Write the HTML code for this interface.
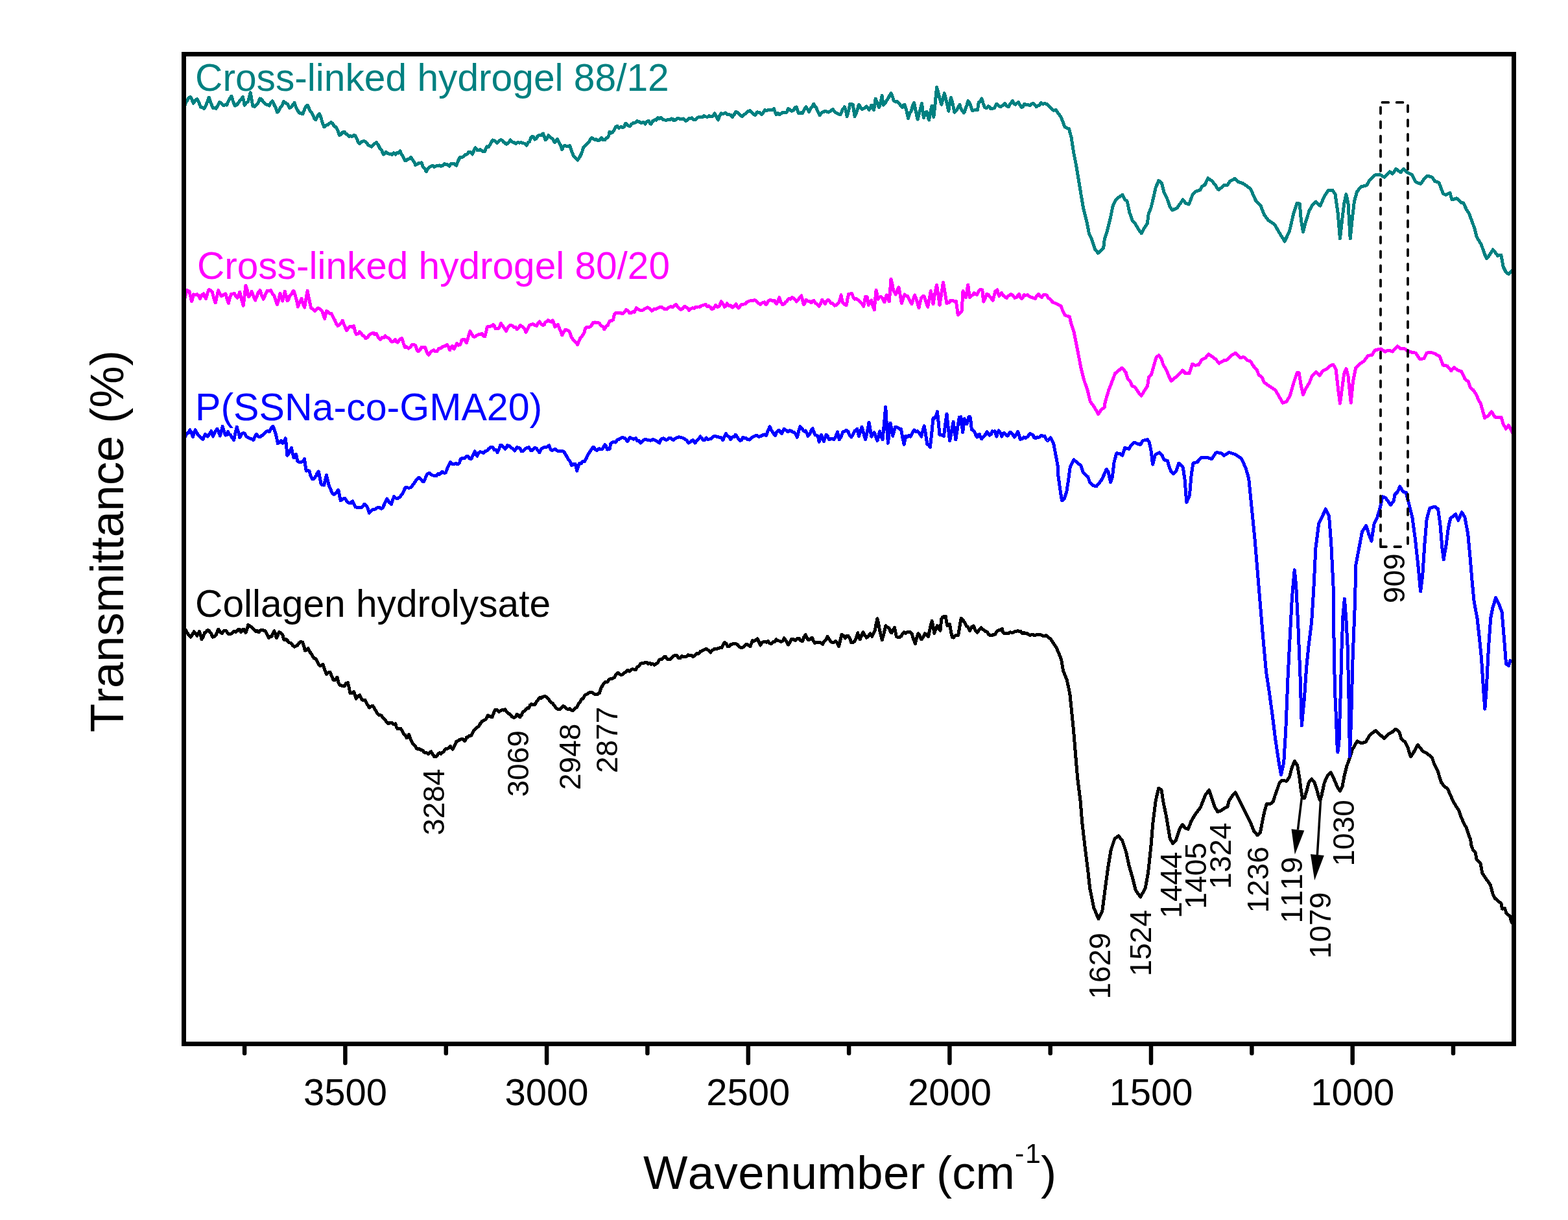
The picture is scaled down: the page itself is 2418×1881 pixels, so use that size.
<!DOCTYPE html>
<html><head><meta charset="utf-8"><title>FTIR spectra</title>
<style>html,body{margin:0;padding:0;background:#fff;} svg{display:block;}</style>
</head><body>
<svg width="2418" height="1881" viewBox="0 0 2418 1881"><rect width="2418" height="1881" fill="#fff"/><path d="M283.7,971.6 L285.5,970.9 L287.3,972.9 L290.5,978.7 L293.7,982.1 L296.5,978.9 L299.2,973.8 L301.5,976.1 L303.8,980.2 L305.6,977.0 L307.5,973.8 L309.3,979.6 L311.1,985.7 L313.4,981.2 L315.7,975.6 L317.5,974.8 L319.4,972.0 L321.7,971.9 L324.0,974.7 L325.8,976.7 L327.6,982.1 L330.4,981.9 L333.1,979.3 L334.9,974.5 L336.8,970.1 L339.5,974.3 L342.3,976.6 L345.0,972.5 L347.8,972.0 L350.1,974.5 L352.3,977.5 L355.5,977.4 L358.8,975.6 L361.0,973.3 L363.3,974.5 L365.6,973.0 L367.9,970.1 L369.7,970.7 L371.6,974.7 L373.9,970.7 L376.2,970.1 L377.5,973.0 L378.9,975.6 L380.7,971.3 L382.6,963.7 L385.0,965.1 L387.4,966.4 L389.9,969.2 L392.2,971.2 L394.5,973.8 L396.8,972.6 L399.0,974.7 L401.3,971.9 L403.6,971.1 L406.4,971.8 L409.1,972.9 L411.9,978.4 L414.6,983.9 L416.9,981.5 L419.2,981.1 L421.0,976.0 L422.9,972.9 L424.7,977.4 L426.5,983.9 L428.4,979.2 L430.2,974.7 L432.5,975.3 L434.8,977.5 L436.1,979.9 L437.5,985.7 L439.3,986.9 L441.2,985.7 L443.7,988.2 L446.2,990.8 L448.7,991.5 L451.2,994.9 L454.0,997.1 L456.7,995.8 L459.0,994.8 L461.3,991.2 L464.1,989.4 L466.8,990.3 L468.6,996.1 L470.5,1003.1 L472.8,1002.1 L475.1,999.5 L478.3,1005.7 L481.5,1010.4 L484.2,1014.8 L487.0,1015.9 L489.7,1020.7 L492.5,1026.0 L495.2,1026.3 L497.9,1024.2 L500.7,1032.6 L503.4,1039.7 L506.2,1037.2 L508.9,1036.1 L511.7,1042.8 L514.4,1048.9 L517.2,1048.0 L519.9,1044.3 L521.8,1051.5 L523.6,1056.2 L526.0,1056.9 L528.5,1057.8 L530.9,1058.1 L533.7,1053.6 L536.4,1052.6 L538.2,1059.9 L540.1,1069.0 L542.8,1068.7 L545.6,1066.3 L547.4,1071.5 L549.2,1077.3 L552.0,1073.4 L554.7,1071.8 L556.6,1075.6 L558.4,1079.1 L560.7,1079.9 L563.0,1079.1 L566.2,1085.7 L569.4,1091.0 L572.1,1089.2 L574.9,1088.3 L577.3,1092.0 L579.8,1096.2 L582.2,1100.2 L584.9,1102.6 L587.7,1102.9 L589.5,1105.3 L591.4,1107.5 L593.8,1109.9 L596.2,1113.0 L598.7,1115.8 L601.4,1114.1 L604.2,1114.1 L606.9,1116.5 L609.7,1115.8 L611.5,1121.6 L613.3,1124.0 L615.6,1123.9 L617.9,1123.1 L620.2,1126.8 L622.5,1131.3 L624.8,1133.3 L627.1,1137.7 L628.9,1135.0 L630.7,1132.2 L633.0,1139.9 L635.3,1144.1 L637.6,1147.9 L639.9,1149.8 L642.2,1153.7 L644.5,1155.1 L646.9,1154.8 L649.4,1156.4 L651.8,1157.0 L654.1,1160.0 L656.4,1160.0 L658.7,1160.9 L661.0,1162.5 L662.8,1159.8 L664.6,1158.8 L667.4,1163.1 L670.1,1167.0 L672.9,1166.4 L675.6,1162.5 L677.8,1160.7 L680.0,1162.5 L680.0,1161.6 L682.4,1160.2 L684.9,1157.9 L687.3,1154.3 L689.8,1154.5 L692.2,1152.7 L694.7,1150.6 L696.5,1154.0 L698.3,1155.2 L701.1,1149.3 L703.8,1143.3 L706.3,1142.3 L708.7,1140.6 L711.1,1139.6 L713.9,1139.4 L716.6,1142.4 L718.0,1141.0 L719.4,1136.9 L721.8,1136.2 L724.3,1134.0 L726.7,1134.1 L728.5,1130.5 L730.4,1126.8 L733.1,1124.3 L735.9,1121.4 L738.6,1119.5 L740.9,1115.3 L743.2,1112.2 L745.9,1110.9 L748.7,1109.4 L750.5,1106.7 L752.3,1103.0 L755.5,1104.8 L758.8,1105.8 L761.0,1100.1 L763.3,1094.8 L766.5,1094.4 L769.7,1097.5 L772.0,1095.6 L774.3,1094.5 L776.6,1095.1 L778.9,1093.8 L781.3,1097.6 L783.8,1099.8 L786.2,1101.2 L789.4,1105.0 L792.6,1106.7 L794.9,1105.1 L797.2,1101.2 L799.5,1102.6 L801.8,1105.8 L804.1,1102.9 L806.4,1097.5 L808.7,1096.8 L811.0,1093.3 L813.2,1091.6 L815.5,1092.0 L817.4,1087.1 L819.2,1085.6 L821.9,1087.0 L824.7,1086.5 L827.4,1081.5 L830.2,1078.3 L832.5,1075.7 L834.8,1076.4 L837.1,1074.3 L839.3,1073.7 L841.8,1074.0 L844.2,1076.1 L846.7,1079.2 L849.4,1082.5 L852.2,1084.4 L854.9,1088.0 L857.7,1092.0 L860.4,1093.7 L863.2,1093.8 L865.9,1090.9 L868.6,1088.4 L871.4,1090.0 L874.1,1092.9 L876.4,1093.5 L878.7,1092.6 L881.0,1094.6 L883.3,1095.7 L886.5,1092.6 L889.7,1090.2 L892.0,1085.4 L894.3,1082.9 L896.7,1077.8 L899.2,1077.0 L901.6,1071.9 L904.4,1070.5 L907.1,1069.1 L909.9,1067.2 L912.6,1067.3 L915.3,1069.5 L918.1,1071.0 L921.3,1070.7 L924.5,1068.2 L927.3,1060.1 L930.0,1055.4 L933.2,1051.8 L936.4,1051.7 L939.2,1047.7 L941.9,1046.2 L944.7,1046.1 L947.4,1044.4 L950.1,1039.5 L952.9,1037.1 L955.6,1039.6 L958.4,1040.7 L960.8,1039.5 L963.3,1037.2 L965.7,1035.2 L968.0,1033.3 L970.3,1035.1 L972.6,1033.6 L974.9,1031.6 L977.6,1032.1 L980.4,1032.5 L982.8,1028.4 L985.3,1026.9 L987.7,1023.3 L990.1,1022.3 L992.6,1022.4 L995.0,1021.5 L997.3,1021.5 L999.6,1023.3 L1001.9,1022.0 L1004.2,1024.2 L1006.6,1023.2 L1009.1,1025.3 L1011.5,1023.3 L1013.9,1022.2 L1016.4,1017.8 L1018.8,1016.0 L1021.3,1016.1 L1023.7,1012.9 L1026.2,1012.3 L1028.9,1016.2 L1031.6,1016.9 L1033.9,1016.2 L1036.2,1013.4 L1038.5,1011.2 L1040.8,1010.5 L1043.6,1010.6 L1046.3,1014.2 L1048.7,1014.9 L1051.2,1011.3 L1053.6,1012.3 L1056.1,1012.6 L1058.5,1012.2 L1061.0,1009.6 L1063.4,1010.8 L1065.8,1010.2 L1068.3,1012.3 L1071.0,1011.4 L1073.8,1007.8 L1076.9,1008.1 L1080.0,1005.0 L1080.0,1004.2 L1082.3,1004.0 L1084.6,1002.4 L1086.9,1001.0 L1089.2,1000.5 L1092.4,1002.7 L1095.6,1006.0 L1098.8,1002.2 L1102.0,1000.5 L1104.7,1000.7 L1107.5,999.6 L1110.2,998.9 L1113.0,998.7 L1115.3,993.5 L1117.5,990.4 L1119.8,992.2 L1122.1,996.8 L1124.4,996.3 L1126.7,993.8 L1129.0,993.4 L1131.3,992.3 L1134.5,992.6 L1137.7,994.1 L1140.4,997.7 L1143.2,998.7 L1146.4,997.8 L1149.6,994.1 L1152.0,993.3 L1154.5,994.9 L1156.9,996.8 L1158.8,991.7 L1160.6,987.7 L1163.0,988.5 L1165.5,986.9 L1167.9,984.9 L1170.2,989.4 L1172.5,995.0 L1174.8,991.2 L1177.1,989.5 L1179.5,989.8 L1182.0,990.1 L1184.4,988.6 L1187.1,992.0 L1189.9,992.3 L1192.3,989.6 L1194.8,989.4 L1197.2,985.9 L1199.7,987.8 L1202.1,988.2 L1204.5,989.5 L1206.8,988.5 L1209.1,984.0 L1212.3,988.1 L1215.5,994.1 L1217.8,990.8 L1220.1,985.9 L1223.3,985.3 L1226.5,987.7 L1229.3,984.7 L1232.0,984.0 L1234.8,987.8 L1237.5,988.6 L1239.8,982.5 L1242.1,978.5 L1244.4,983.6 L1246.7,986.8 L1249.4,985.3 L1252.2,983.1 L1254.5,988.5 L1256.7,991.4 L1259.9,990.4 L1263.2,990.4 L1265.9,991.2 L1268.6,993.2 L1271.1,988.5 L1273.5,986.6 L1276.0,981.3 L1278.7,985.8 L1281.5,989.5 L1283.9,990.9 L1286.3,990.3 L1288.8,988.6 L1291.1,991.4 L1293.4,996.8 L1295.7,987.9 L1297.9,978.5 L1300.7,979.9 L1303.4,984.0 L1305.7,980.5 L1308.0,980.4 L1310.3,983.9 L1312.6,990.4 L1315.3,990.8 L1318.1,988.6 L1320.4,983.2 L1322.7,975.8 L1324.5,982.0 L1326.3,985.9 L1328.6,979.8 L1330.9,974.9 L1333.7,979.4 L1336.4,983.1 L1339.2,980.9 L1341.9,976.7 L1343.3,978.6 L1344.7,981.3 L1346.9,977.0 L1349.2,972.1 L1351.1,962.0 L1352.9,953.8 L1354.7,961.5 L1356.6,972.1 L1358.4,978.6 L1360.2,986.8 L1363.0,977.2 L1365.7,964.8 L1368.5,966.9 L1371.2,968.5 L1373.0,973.7 L1374.9,975.8 L1377.2,971.5 L1379.5,967.5 L1380.8,973.6 L1382.2,981.3 L1384.9,982.8 L1387.7,982.2 L1389.5,981.1 L1391.4,977.6 L1393.8,974.9 L1396.2,976.4 L1398.7,974.9 L1401.1,974.0 L1403.6,974.7 L1406.0,976.7 L1408.8,985.9 L1411.5,992.3 L1413.8,982.8 L1416.1,976.7 L1418.4,980.3 L1420.7,985.9 L1423.4,983.0 L1426.2,976.7 L1428.9,978.7 L1431.6,981.3 L1434.4,968.0 L1437.1,957.5 L1439.0,965.9 L1440.8,976.7 L1443.1,969.8 L1445.4,964.8 L1447.7,969.3 L1450.0,972.1 L1451.8,953.8 L1455.0,950.5 L1458.2,950.1 L1459.6,959.0 L1461.0,964.8 L1462.8,963.0 L1464.6,962.1 L1466.4,973.8 L1468.3,982.2 L1470.6,983.1 L1473.0,980.2 L1475.3,979.5 L1477.7,979.7 L1479.9,966.4 L1482.1,953.2 L1485.0,955.5 L1488.0,960.6 L1490.4,965.1 L1492.9,966.8 L1495.3,972.4 L1498.3,966.9 L1501.2,965.0 L1504.1,971.9 L1507.1,975.3 L1510.0,970.9 L1513.0,968.0 L1515.3,970.4 L1517.7,971.9 L1520.0,973.5 L1522.4,974.6 L1524.7,978.3 L1527.2,979.7 L1529.6,979.9 L1532.1,978.3 L1534.7,978.2 L1537.4,973.3 L1540.0,971.9 L1542.7,971.6 L1545.3,969.4 L1546.8,974.8 L1548.3,976.8 L1550.6,976.6 L1553.0,976.9 L1555.4,976.5 L1557.7,974.7 L1560.1,975.3 L1562.4,975.2 L1564.8,974.0 L1567.1,973.5 L1569.5,972.6 L1571.8,973.8 L1574.2,973.6 L1576.5,976.8 L1578.9,975.4 L1581.2,976.7 L1583.6,976.8 L1586.0,977.9 L1588.3,979.6 L1590.7,978.2 L1593.0,978.4 L1595.4,979.7 L1598.3,978.6 L1601.3,978.1 L1604.2,978.3 L1607.1,980.0 L1610.1,980.7 L1613.0,979.7 L1620.4,985.6 L1629.2,998.9 L1636.6,1016.5 L1639.5,1034.2 L1645.4,1048.9 L1649.8,1069.5 L1652.8,1098.9 L1655.7,1128.3 L1658.6,1163.7 L1661.6,1199.0 L1666.0,1234.3 L1668.9,1269.6 L1673.4,1307.9 L1677.8,1343.2 L1680.7,1369.7 L1686.6,1399.1 L1694.0,1416.8 L1699.8,1405.0 L1704.3,1369.7 L1708.7,1337.3 L1713.1,1310.8 L1719.0,1293.1 L1724.9,1288.7 L1730.7,1296.1 L1736.6,1313.7 L1741.0,1334.3 L1746.9,1354.9 L1751.3,1372.6 L1758.7,1382.9 L1766.1,1369.7 L1770.5,1346.1 L1774.9,1304.9 L1777.8,1269.6 L1782.2,1234.3 L1786.7,1215.2 L1791.1,1218.1 L1794.0,1237.2 L1798.4,1257.8 L1804.3,1293.1 L1808.7,1300.5 L1813.1,1296.1 L1819.0,1278.4 L1823.4,1271.1 L1827.9,1277.0 L1832.3,1278.4 L1836.7,1266.7 L1842.6,1256.4 L1851.4,1244.6 L1858.8,1225.5 L1864.6,1218.1 L1873.2,1243.8 L1877.6,1251.5 L1882.0,1250.4 L1888.6,1246.0 L1893.0,1243.8 L1895.2,1235.1 L1900.7,1226.3 L1905.1,1221.9 L1909.5,1230.7 L1916.0,1243.8 L1922.6,1257.0 L1929.2,1270.2 L1933.6,1281.2 L1939.1,1287.8 L1943.5,1283.4 L1946.8,1265.8 L1950.1,1250.4 L1953.4,1239.5 L1958.9,1239.5 L1963.3,1236.2 L1966.6,1225.2 L1969.9,1216.4 L1973.2,1206.5 L1976.5,1203.2 L1984.2,1204.3 L1988.6,1197.7 L1991.9,1184.5 L1996.3,1173.5 L2000.7,1180.1 L2004.0,1199.9 L2006.2,1217.5 L2008.4,1229.6 L2011.6,1230.7 L2014.9,1219.7 L2018.2,1206.5 L2022.6,1201.0 L2027.0,1206.5 L2030.3,1216.4 L2033.6,1228.5 L2035.8,1234.0 L2038.0,1226.3 L2042.4,1206.5 L2046.8,1196.6 L2052.3,1191.1 L2056.7,1199.9 L2062.2,1213.1 L2066.6,1219.7 L2069.9,1213.1 L2073.2,1195.5 L2076.5,1182.3 L2082.0,1166.9 L2085.3,1155.9 L2093.0,1142.7 L2099.6,1146.0 L2106.2,1143.8 L2112.7,1132.9 L2121.5,1126.3 L2128.1,1132.9 L2134.7,1138.4 L2141.3,1131.8 L2145.7,1129.6 L2152.3,1124.1 L2157.8,1128.5 L2161.1,1139.5 L2166.6,1143.8 L2171.0,1152.6 L2175.4,1166.9 L2179.8,1160.3 L2186.4,1148.2 L2189.7,1152.6 L2194.1,1158.1 L2201.8,1162.5 L2208.4,1168.0 L2211.6,1177.9 L2217.1,1188.9 L2222.6,1206.5 L2227.0,1212.0 L2232.5,1216.4 L2236.9,1226.3 L2241.3,1236.2 L2244.6,1241.6 L2250.1,1250.4 L2253.4,1260.3 L2257.8,1270.2 L2261.2,1275.9 L2264.7,1286.5 L2267.7,1294.7 L2268.9,1303.0 L2271.8,1311.2 L2275.3,1314.7 L2277.1,1325.3 L2283.0,1331.2 L2285.9,1346.5 L2290.6,1353.6 L2298.3,1364.2 L2302.4,1379.5 L2304.7,1384.2 L2309.5,1388.9 L2314.8,1392.4 L2316.5,1401.2 L2320.6,1400.6 L2323.0,1408.3 L2328.3,1412.4 L2331.0,1421.8 L2333.0,1424.2" fill="none" stroke="#000000" stroke-width="5.0" stroke-linejoin="round" stroke-linecap="round" shape-rendering="crispEdges"/><path d="M283.7,673.9 L286.0,672.8 L288.2,668.4 L290.5,667.3 L292.8,662.9 L295.1,666.8 L297.4,673.9 L299.2,666.9 L301.1,662.9 L303.4,667.8 L305.6,670.2 L308.1,673.5 L310.5,675.7 L313.0,677.5 L314.8,672.7 L316.6,669.3 L318.5,671.5 L320.3,673.0 L323.0,669.2 L325.8,664.7 L327.2,669.1 L328.5,673.0 L331.7,665.8 L334.9,661.1 L337.2,666.3 L339.5,672.1 L341.4,664.3 L343.2,657.4 L345.5,665.1 L347.8,671.1 L349.6,670.2 L351.4,665.6 L353.3,669.5 L355.1,670.2 L357.8,674.5 L360.6,678.5 L362.9,668.2 L365.2,658.3 L367.5,665.7 L369.7,674.8 L372.5,669.5 L375.2,667.5 L377.5,668.5 L379.8,673.0 L383.0,674.7 L386.2,676.6 L388.5,676.9 L390.8,678.5 L393.1,673.5 L395.4,669.3 L398.1,673.0 L400.9,673.9 L402.7,672.6 L404.5,671.1 L407.3,668.6 L410.0,665.6 L412.8,664.7 L415.5,665.6 L418.3,659.8 L421.0,657.4 L422.9,661.8 L424.7,667.5 L426.5,674.4 L428.4,684.0 L431.1,681.7 L433.8,679.4 L435.2,683.0 L436.6,683.0 L438.4,680.0 L440.3,675.7 L441.6,687.8 L443.0,702.3 L446.2,697.7 L449.4,690.4 L451.2,699.2 L453.1,705.9 L454.9,704.0 L456.7,700.4 L458.6,710.5 L461.8,712.9 L465.0,712.3 L467.3,711.0 L469.6,707.8 L470.9,718.0 L472.3,726.1 L474.6,725.6 L476.9,726.1 L479.2,734.2 L481.5,738.9 L484.2,738.3 L487.0,734.3 L489.2,729.4 L491.5,727.0 L493.4,737.5 L495.2,746.2 L497.5,747.9 L499.8,748.1 L501.6,740.1 L503.4,732.5 L505.3,740.4 L507.1,748.1 L509.9,754.4 L512.6,760.9 L514.9,762.4 L517.2,760.9 L519.5,758.1 L521.8,755.4 L523.6,764.8 L525.4,771.9 L528.6,769.5 L531.8,768.2 L535.0,773.2 L538.2,775.5 L541.0,775.6 L543.7,772.8 L546.0,777.2 L548.3,781.9 L551.5,782.6 L554.7,782.9 L557.2,782.5 L559.6,780.0 L562.1,777.4 L563.9,779.1 L565.7,781.0 L567.5,785.1 L569.4,791.1 L572.1,787.7 L574.9,785.6 L577.6,785.4 L580.4,783.8 L583.1,782.1 L585.9,782.9 L588.2,784.3 L590.4,782.9 L593.6,775.2 L596.8,769.1 L600.1,774.7 L603.3,777.4 L605.5,770.7 L607.8,765.5 L611.0,768.5 L614.2,768.2 L617.5,765.3 L620.7,760.9 L622.9,756.3 L625.2,751.7 L628.0,751.8 L630.7,752.3 L633.5,751.7 L636.2,748.4 L639.0,744.4 L641.4,741.0 L643.9,737.8 L646.3,736.2 L648.7,738.3 L651.2,742.0 L653.6,742.6 L655.5,738.4 L657.3,733.4 L660.0,730.0 L662.8,729.7 L665.2,732.1 L667.7,733.0 L670.1,733.4 L672.6,734.0 L675.1,730.5 L677.5,731.5 L680.0,729.7 L680.0,728.8 L682.4,727.2 L684.9,729.4 L687.3,728.8 L689.8,722.5 L692.2,716.9 L694.7,712.3 L697.4,715.5 L700.1,716.0 L702.6,714.3 L705.0,715.5 L707.5,715.1 L708.8,712.7 L710.2,707.8 L713.4,706.4 L716.6,706.8 L718.9,704.0 L721.2,703.2 L724.0,706.8 L726.7,707.8 L729.5,701.5 L732.2,695.9 L734.0,700.3 L735.9,703.2 L738.2,698.3 L740.4,696.8 L743.2,697.2 L745.9,698.6 L748.4,695.3 L750.8,695.0 L753.3,692.2 L756.5,689.3 L759.7,689.5 L762.1,693.8 L764.6,693.2 L767.0,697.7 L769.3,693.0 L771.6,686.7 L774.0,686.8 L776.5,689.5 L778.9,692.2 L780.7,690.6 L782.6,686.7 L785.3,687.3 L788.1,690.4 L790.8,691.5 L793.6,694.9 L795.4,692.9 L797.2,689.5 L799.5,690.6 L801.8,691.0 L804.1,696.0 L806.4,695.9 L808.7,693.0 L811.0,691.0 L813.2,690.5 L815.5,689.5 L817.4,692.6 L819.2,694.9 L821.9,693.5 L824.7,690.4 L827.1,691.4 L829.6,694.7 L832.0,697.7 L834.8,692.3 L837.5,690.4 L839.8,689.3 L842.1,689.5 L844.4,688.5 L846.7,686.7 L848.5,691.8 L850.3,694.0 L853.1,694.0 L855.8,692.2 L858.3,694.7 L860.7,695.4 L863.2,695.9 L865.9,695.8 L868.6,695.9 L871.4,699.0 L874.1,704.1 L876.9,708.8 L879.6,712.3 L881.5,717.8 L884.2,715.8 L887.0,715.1 L888.3,719.2 L889.7,726.1 L891.5,719.9 L893.4,714.2 L896.1,714.6 L898.9,711.0 L901.6,711.4 L904.4,706.2 L907.1,700.4 L909.5,696.4 L912.0,693.2 L914.4,689.5 L916.3,690.0 L918.1,693.1 L920.8,694.5 L923.6,691.8 L926.3,692.8 L929.1,692.2 L930.9,688.7 L932.7,685.8 L934.6,687.7 L936.4,693.1 L938.2,692.9 L940.1,692.2 L941.9,684.0 L944.3,682.1 L946.8,681.1 L949.2,682.1 L952.0,678.2 L954.7,677.5 L957.9,675.0 L961.1,674.8 L964.3,676.1 L967.5,680.3 L969.4,678.0 L971.2,674.8 L973.5,675.1 L975.8,677.0 L978.1,677.0 L980.4,675.7 L982.8,679.9 L985.3,679.6 L987.7,683.0 L990.1,681.0 L992.6,678.5 L995.0,677.5 L997.5,678.0 L999.9,678.3 L1002.3,679.1 L1004.8,678.9 L1007.2,677.4 L1009.7,678.5 L1012.1,679.7 L1014.6,681.6 L1017.0,683.0 L1018.8,678.1 L1020.7,676.6 L1023.1,675.6 L1025.5,677.5 L1028.0,678.5 L1031.2,675.7 L1034.4,675.7 L1036.7,677.9 L1039.0,678.5 L1041.7,675.7 L1044.5,674.8 L1047.2,673.8 L1050.0,674.6 L1052.7,675.2 L1055.5,676.6 L1058.7,678.8 L1061.9,683.0 L1065.1,680.8 L1068.3,678.5 L1070.1,680.6 L1071.9,683.0 L1074.6,679.0 L1077.3,676.8 L1080.0,673.0 L1080.0,674.1 L1082.3,675.4 L1084.6,678.7 L1086.9,678.3 L1089.2,675.0 L1091.9,677.6 L1094.7,676.8 L1097.1,676.1 L1099.5,673.6 L1102.0,672.3 L1104.4,672.9 L1106.9,673.8 L1109.3,674.1 L1112.1,674.8 L1114.8,678.7 L1117.1,673.3 L1119.4,668.6 L1121.8,671.8 L1124.3,673.6 L1126.7,677.8 L1129.1,673.9 L1131.6,674.0 L1134.0,670.4 L1136.5,673.0 L1138.9,676.6 L1141.4,679.6 L1143.6,678.4 L1145.9,674.1 L1148.4,675.7 L1150.8,675.8 L1153.3,677.8 L1156.0,678.1 L1158.8,675.0 L1161.5,673.2 L1164.2,672.3 L1167.0,671.0 L1169.7,673.2 L1172.5,672.9 L1175.2,671.4 L1178.4,669.9 L1181.6,671.4 L1184.4,663.8 L1187.1,657.6 L1189.0,662.5 L1190.8,664.9 L1193.1,668.8 L1195.4,671.4 L1198.1,665.5 L1200.9,663.1 L1203.2,665.7 L1205.5,668.6 L1207.3,664.6 L1209.1,661.3 L1212.3,663.5 L1215.5,665.9 L1217.4,663.9 L1219.2,664.0 L1221.9,665.7 L1224.7,666.8 L1227.0,668.9 L1229.3,674.1 L1231.6,665.1 L1233.8,657.6 L1236.1,659.9 L1238.4,663.1 L1240.3,665.1 L1242.1,664.0 L1243.9,666.6 L1245.8,672.3 L1247.6,670.9 L1249.4,667.7 L1251.2,662.9 L1253.1,660.4 L1254.9,665.7 L1256.7,670.4 L1259.0,671.0 L1261.3,672.3 L1263.2,681.4 L1265.0,675.8 L1266.8,670.4 L1268.6,676.4 L1270.5,680.5 L1272.3,675.1 L1274.1,670.4 L1276.4,672.7 L1278.7,677.8 L1281.2,676.4 L1283.6,676.3 L1286.0,677.8 L1288.8,673.1 L1291.5,665.9 L1292.9,672.3 L1294.3,677.8 L1297.0,673.5 L1299.8,665.9 L1302.5,665.2 L1305.3,663.1 L1307.7,665.1 L1310.2,671.0 L1312.6,674.1 L1315.3,670.1 L1318.1,664.0 L1319.9,663.5 L1321.8,661.3 L1323.1,666.8 L1324.5,672.3 L1326.8,664.9 L1329.1,658.5 L1331.8,668.0 L1334.6,677.8 L1337.3,665.6 L1340.1,651.2 L1341.9,661.4 L1343.7,673.2 L1346.0,670.1 L1348.3,666.8 L1350.6,673.1 L1352.9,679.6 L1354.7,673.9 L1356.6,664.9 L1358.8,672.5 L1361.1,677.8 L1363.4,654.1 L1365.7,627.4 L1367.5,656.5 L1369.4,683.3 L1371.2,667.0 L1373.0,652.1 L1374.9,661.2 L1376.7,672.3 L1378.5,665.4 L1380.4,658.5 L1382.7,658.4 L1384.9,659.6 L1387.2,661.2 L1389.5,661.3 L1391.8,674.7 L1394.1,685.1 L1395.5,679.0 L1396.8,672.3 L1399.3,673.7 L1401.7,671.4 L1404.2,673.2 L1406.9,667.6 L1409.7,663.1 L1412.4,665.8 L1415.2,664.9 L1417.9,667.8 L1420.7,673.2 L1422.9,664.6 L1425.2,656.7 L1427.5,669.3 L1429.8,685.1 L1432.1,685.9 L1434.4,689.7 L1436.7,668.7 L1439.0,644.8 L1440.8,645.6 L1442.6,643.0 L1444.0,639.4 L1445.4,634.7 L1447.2,651.2 L1449.0,670.4 L1452.3,670.6 L1455.5,672.3 L1457.7,654.4 L1460.0,638.4 L1462.3,659.6 L1464.6,679.6 L1467.4,665.6 L1470.1,650.3 L1471.9,663.8 L1473.8,677.8 L1476.5,660.5 L1479.3,643.0 L1480.0,653.8 L1481.8,642.8 L1483.2,653.3 L1484.6,666.6 L1486.0,656.2 L1487.3,645.6 L1489.2,651.3 L1491.0,653.8 L1492.4,649.2 L1493.7,642.8 L1495.1,642.3 L1496.5,644.7 L1498.3,662.1 L1500.6,663.9 L1502.9,665.7 L1504.7,670.6 L1506.6,674.0 L1508.4,670.8 L1510.2,669.4 L1512.1,674.5 L1513.9,676.7 L1515.7,674.3 L1517.5,672.1 L1519.8,669.7 L1522.1,665.7 L1524.0,668.1 L1525.8,671.2 L1528.1,669.8 L1530.4,664.8 L1532.2,665.8 L1534.0,664.8 L1535.4,669.2 L1536.8,673.0 L1538.6,667.2 L1540.4,663.9 L1542.7,668.2 L1545.0,673.0 L1546.8,668.6 L1548.7,667.5 L1551.0,670.2 L1553.3,672.1 L1555.1,670.8 L1556.9,666.6 L1558.8,666.4 L1560.6,668.5 L1562.4,671.2 L1564.2,674.0 L1567.0,669.8 L1569.7,665.7 L1571.6,671.3 L1573.4,677.6 L1576.2,676.5 L1578.9,674.0 L1581.2,675.5 L1583.5,674.0 L1585.8,671.9 L1588.1,668.5 L1590.3,669.3 L1592.6,670.3 L1594.9,674.7 L1597.2,675.8 L1599.5,674.0 L1601.8,674.4 L1604.1,672.9 L1606.4,671.2 L1608.7,672.6 L1611.0,672.1 L1613.2,677.1 L1615.5,679.5 L1620.1,674.9 L1624.7,684.0 L1628.4,703.3 L1631.1,717.9 L1632.0,734.4 L1634.8,754.5 L1637.5,771.9 L1641.2,769.2 L1644.8,758.2 L1647.6,739.9 L1650.3,719.7 L1655.8,708.8 L1661.3,713.3 L1666.8,717.9 L1670.5,728.9 L1677.8,735.3 L1680.5,743.6 L1685.1,748.1 L1690.6,750.0 L1696.1,743.6 L1699.8,738.1 L1706.2,723.4 L1708.9,727.1 L1712.6,743.6 L1715.3,736.2 L1718.1,712.4 L1721.8,698.7 L1727.3,699.6 L1730.9,702.3 L1734.6,690.4 L1741.0,692.3 L1744.7,685.9 L1749.2,682.2 L1758.4,685.9 L1762.1,679.5 L1769.4,677.6 L1772.1,681.3 L1774.9,694.1 L1777.6,716.1 L1781.3,701.4 L1787.7,697.8 L1792.3,702.3 L1795.0,708.8 L1800.5,710.6 L1802.3,717.9 L1806.0,727.1 L1809.7,730.7 L1814.2,725.2 L1817.9,714.2 L1824.3,720.7 L1827.1,739.9 L1829.8,774.7 L1834.4,763.7 L1837.1,732.6 L1839.9,714.2 L1846.3,712.4 L1852.7,705.1 L1861.0,705.1 L1868.3,707.8 L1874.7,698.7 L1876.4,697.5 L1884.3,699.1 L1887.5,702.3 L1895.4,697.5 L1905.0,700.7 L1914.5,707.0 L1920.9,721.3 L1925.6,737.2 L1928.8,769.0 L1932.0,800.8 L1935.2,832.6 L1938.3,870.7 L1941.5,908.9 L1944.7,947.0 L1947.9,985.1 L1952.6,1036.0 L1957.4,1067.8 L1962.2,1102.8 L1966.9,1140.9 L1971.7,1172.7 L1975.5,1194.9 L1979.7,1175.9 L1982.8,1125.0 L1986.0,1045.5 L1989.2,982.0 L1992.4,921.6 L1996.2,878.7 L1998.7,902.5 L2001.9,966.1 L2005.1,1045.5 L2007.3,1118.7 L2011.4,1077.3 L2014.6,1029.7 L2017.8,997.9 L2022.6,959.7 L2025.8,908.9 L2028.9,845.3 L2033.7,807.1 L2038.5,797.6 L2044.2,784.9 L2049.6,796.0 L2052.8,838.9 L2056.0,902.5 L2057.2,997.9 L2058.5,1064.9 L2060.4,1105.0 L2061.7,1145.0 L2062.9,1160.0 L2064.9,1145.0 L2066.1,1105.0 L2067.4,1064.9 L2069.0,1000.1 L2070.9,950.2 L2073.4,923.2 L2076.0,956.5 L2078.2,997.9 L2080.4,1093.2 L2081.4,1166.3 L2083.6,1109.1 L2086.1,1013.8 L2089.3,934.3 L2090.9,870.7 L2095.7,845.3 L2100.5,819.9 L2106.8,810.3 L2111.1,824.6 L2114.9,834.2 L2119.1,807.1 L2123.8,797.6 L2128.6,781.7 L2131.8,765.8 L2136.6,767.4 L2144.5,778.5 L2149.3,772.2 L2150.9,762.6 L2155.6,757.9 L2158.8,749.9 L2163.6,757.9 L2168.3,759.5 L2173.1,778.5 L2177.9,797.6 L2182.6,832.6 L2187.4,877.1 L2190.6,912.0 L2193.8,886.6 L2196.9,838.9 L2200.1,800.8 L2204.9,783.3 L2212.8,781.1 L2217.6,784.9 L2220.8,807.1 L2224.0,845.3 L2226.2,862.8 L2230.3,838.9 L2233.5,813.5 L2236.7,799.2 L2244.6,792.8 L2248.8,802.4 L2254.2,789.7 L2258.9,797.6 L2263.7,823.0 L2266.9,858.0 L2270.1,896.1 L2273.2,927.9 L2278.0,953.4 L2281.2,982.0 L2284.4,1013.8 L2287.5,1061.4 L2289.8,1093.2 L2292.3,1061.4 L2295.5,997.9 L2298.7,953.4 L2301.8,937.5 L2306.6,921.6 L2311.4,931.1 L2316.1,943.8 L2319.3,982.0 L2322.5,1023.3 L2326.3,1026.5 L2328.9,1018.5 L2334.3,1021.7" fill="none" stroke="#0000FF" stroke-width="5.0" stroke-linejoin="round" stroke-linecap="round" shape-rendering="crispEdges"/><path d="M284.6,462.1 L286.4,453.9 L288.2,447.5 L290.1,448.5 L291.9,449.3 L293.7,456.6 L295.6,464.9 L296.9,459.8 L298.3,453.9 L301.1,454.3 L303.8,453.9 L306.1,455.5 L308.4,460.3 L311.1,454.9 L313.9,453.0 L315.7,457.8 L317.5,460.3 L319.8,452.6 L322.1,446.6 L324.9,447.9 L327.6,451.1 L329.9,460.7 L332.2,466.7 L334.5,457.0 L336.8,447.5 L339.1,453.3 L341.4,456.6 L344.6,454.7 L347.8,453.0 L350.1,460.8 L352.3,467.6 L354.6,459.0 L356.9,453.0 L359.2,453.0 L361.5,452.1 L363.8,457.0 L366.1,459.4 L367.9,454.9 L369.7,450.2 L372.5,461.6 L375.2,471.3 L377.1,456.3 L378.9,440.1 L381.2,447.3 L383.5,457.5 L385.8,454.4 L388.1,449.3 L390.8,456.5 L393.6,463.0 L396.0,457.1 L398.4,451.0 L400.9,447.5 L403.6,455.7 L406.4,461.2 L409.1,454.7 L411.9,448.4 L414.6,448.7 L417.4,447.5 L420.1,453.0 L422.9,455.7 L425.1,463.4 L427.4,469.5 L429.7,462.3 L432.0,452.1 L433.8,457.6 L435.7,464.0 L437.5,457.7 L439.3,449.3 L441.2,456.4 L443.0,464.0 L444.8,461.9 L446.7,456.6 L449.4,453.9 L452.2,448.4 L453.5,449.7 L454.9,453.9 L457.2,462.2 L459.5,473.1 L462.2,465.7 L465.0,460.3 L467.3,468.8 L469.6,474.0 L471.8,461.0 L474.1,448.4 L476.9,462.1 L479.6,474.9 L482.4,476.5 L485.1,479.5 L487.9,477.3 L490.6,474.9 L493.4,476.4 L496.1,478.6 L498.4,484.5 L500.7,491.4 L502.1,485.8 L503.4,479.5 L505.9,481.0 L508.3,483.4 L510.8,483.2 L513.5,488.9 L516.3,493.3 L518.6,499.4 L520.8,502.4 L523.3,501.0 L525.7,498.7 L528.2,494.2 L531.4,502.6 L534.6,509.7 L537.3,505.3 L540.1,503.3 L542.8,504.2 L545.6,502.4 L547.4,510.5 L549.2,515.2 L552.0,514.9 L554.7,511.6 L557.0,514.3 L559.3,517.4 L561.6,518.1 L563.9,521.6 L566.3,520.7 L568.8,517.6 L571.2,515.2 L573.5,514.2 L575.8,513.2 L578.1,515.8 L580.4,514.3 L583.6,520.7 L586.8,523.5 L589.2,520.2 L591.7,520.9 L594.1,518.0 L596.6,520.0 L599.1,521.3 L601.7,524.1 L604.2,527.1 L606.9,526.3 L609.7,523.5 L611.5,527.1 L613.3,528.1 L616.5,523.2 L619.7,521.6 L622.0,528.9 L624.3,535.4 L627.1,534.7 L629.8,537.2 L632.6,535.3 L635.3,531.7 L638.1,531.6 L640.8,532.6 L642.6,538.6 L644.5,541.8 L647.2,540.3 L650.0,535.4 L652.7,535.4 L655.5,535.4 L658.2,543.1 L661.0,547.3 L663.7,543.4 L666.4,540.9 L668.9,539.7 L671.3,541.8 L673.8,541.8 L676.9,537.4 L680.0,536.3 L680.0,537.1 L682.3,534.6 L684.6,534.0 L686.9,533.3 L689.2,531.6 L691.4,534.5 L693.7,539.8 L695.6,535.0 L697.4,533.4 L698.8,537.0 L700.1,538.0 L702.4,533.2 L704.7,529.7 L707.0,532.3 L709.3,531.6 L710.7,529.3 L712.1,524.2 L714.3,523.4 L716.6,523.3 L718.0,525.9 L719.4,528.8 L722.1,519.7 L724.9,510.5 L726.7,514.2 L728.5,516.9 L729.9,518.6 L731.3,519.7 L734.0,518.1 L736.8,516.0 L740.0,515.5 L743.2,514.2 L745.5,518.1 L747.8,518.8 L749.6,511.5 L751.4,504.1 L753.7,503.4 L756.0,503.2 L758.3,502.6 L760.6,500.4 L762.4,502.7 L764.2,506.8 L766.1,506.1 L767.9,506.8 L770.2,504.4 L772.5,498.6 L774.8,501.9 L777.1,505.0 L778.9,507.9 L780.7,510.5 L783.5,504.2 L786.2,501.4 L788.1,501.5 L789.9,502.3 L792.3,504.4 L794.8,504.2 L797.2,507.8 L800.0,505.0 L802.7,501.4 L804.5,503.2 L806.4,504.1 L808.7,506.6 L811.0,512.3 L813.7,507.3 L816.4,501.4 L819.2,500.3 L821.9,499.5 L824.7,501.5 L827.4,502.3 L829.7,498.5 L832.0,495.9 L833.8,498.9 L835.7,500.4 L837.5,501.3 L839.3,500.4 L841.2,496.4 L843.0,495.9 L845.3,493.8 L847.6,495.6 L849.9,496.2 L852.2,494.0 L854.0,498.2 L855.8,504.1 L858.1,502.1 L860.4,500.4 L861.8,504.4 L863.2,507.8 L865.0,511.7 L866.8,516.9 L869.1,512.3 L871.4,508.7 L874.6,508.9 L877.8,510.5 L879.6,515.1 L881.5,520.6 L883.8,523.7 L886.0,526.1 L888.3,528.1 L890.6,531.6 L892.9,525.6 L895.2,520.6 L897.9,517.9 L900.7,513.3 L902.5,507.0 L904.4,504.1 L907.1,504.4 L909.9,504.1 L912.1,501.7 L914.4,497.7 L917.2,497.0 L919.9,497.7 L922.2,497.2 L924.5,498.6 L926.8,502.0 L929.1,503.2 L930.5,504.5 L931.8,507.8 L934.6,503.4 L937.3,501.4 L938.7,497.9 L940.1,494.9 L942.8,494.7 L945.6,493.1 L947.4,484.9 L949.8,482.5 L952.3,482.4 L954.7,482.1 L957.0,482.4 L959.3,484.0 L962.5,482.0 L965.7,477.5 L968.2,479.2 L970.6,482.5 L973.0,483.0 L975.8,480.9 L978.5,481.2 L979.9,477.4 L981.3,474.8 L984.5,477.2 L987.7,478.5 L990.4,478.9 L993.2,476.6 L995.9,475.1 L998.7,473.9 L1001.9,475.6 L1005.1,479.4 L1008.3,476.6 L1011.5,476.6 L1014.7,474.9 L1017.9,473.0 L1021.1,473.7 L1024.3,476.6 L1026.8,476.8 L1029.2,476.0 L1031.6,473.9 L1034.4,472.7 L1037.1,473.9 L1039.9,470.8 L1042.6,469.3 L1045.1,473.2 L1047.5,475.3 L1050.0,477.5 L1052.7,475.9 L1055.5,472.1 L1057.9,473.6 L1060.3,475.0 L1062.8,478.5 L1065.5,475.9 L1068.3,474.8 L1070.6,475.5 L1073.0,473.2 L1075.3,473.1 L1077.7,473.0 L1080.0,473.0 L1080.0,472.3 L1082.7,471.1 L1085.5,470.1 L1088.2,469.5 L1090.5,472.9 L1092.8,471.9 L1095.1,473.2 L1097.4,476.8 L1100.6,475.2 L1103.8,470.4 L1105.6,473.2 L1107.5,473.2 L1109.8,470.8 L1112.1,464.9 L1114.8,468.8 L1117.5,473.2 L1119.4,472.1 L1121.2,467.7 L1124.0,471.4 L1126.7,471.0 L1129.5,474.1 L1132.2,472.2 L1134.9,468.6 L1136.8,473.0 L1138.6,475.0 L1140.9,472.9 L1143.2,469.5 L1146.4,469.1 L1149.6,468.6 L1151.4,466.0 L1153.3,464.9 L1155.7,464.1 L1158.1,463.4 L1160.6,464.0 L1163.3,462.5 L1166.1,464.0 L1169.3,467.1 L1172.5,469.5 L1175.7,466.9 L1178.9,465.9 L1180.3,468.8 L1181.6,469.5 L1184.9,464.2 L1188.1,462.2 L1191.3,464.1 L1194.5,463.1 L1195.8,466.6 L1197.2,468.6 L1199.5,465.1 L1201.8,458.5 L1204.1,465.5 L1206.4,469.5 L1208.8,469.1 L1211.3,466.1 L1213.7,464.0 L1216.1,460.4 L1218.6,461.2 L1221.0,458.5 L1223.5,459.5 L1225.9,462.1 L1228.4,464.9 L1230.8,462.5 L1233.2,458.9 L1235.7,455.8 L1237.5,462.3 L1239.3,469.5 L1241.2,467.4 L1243.0,462.2 L1245.8,464.1 L1248.5,464.7 L1251.2,466.8 L1253.1,464.1 L1254.9,463.1 L1257.7,467.5 L1260.4,469.1 L1263.2,472.3 L1265.4,468.3 L1267.7,462.2 L1270.0,464.9 L1272.3,468.6 L1274.6,464.3 L1276.9,462.2 L1279.4,464.6 L1281.9,467.9 L1284.4,467.9 L1287.0,471.4 L1290.2,470.1 L1293.4,466.8 L1295.2,462.3 L1297.0,454.9 L1298.4,461.9 L1299.8,466.8 L1302.5,469.8 L1305.3,470.4 L1307.1,460.0 L1308.9,453.0 L1311.2,453.0 L1313.5,452.1 L1315.8,458.0 L1318.1,461.3 L1320.5,460.6 L1323.0,462.3 L1325.4,464.0 L1328.6,467.3 L1331.8,472.3 L1333.2,465.0 L1334.6,457.6 L1336.0,457.3 L1337.3,457.6 L1339.2,470.4 L1341.4,466.7 L1343.7,463.1 L1346.0,471.4 L1348.3,477.8 L1349.7,460.9 L1351.1,447.5 L1352.4,452.8 L1353.8,461.3 L1356.1,458.1 L1358.4,457.6 L1361.1,460.4 L1363.9,465.9 L1365.7,458.8 L1367.5,454.9 L1369.4,461.6 L1371.2,464.9 L1372.6,448.8 L1374.0,430.1 L1375.8,437.4 L1377.6,447.5 L1379.5,450.8 L1381.3,454.0 L1383.6,447.8 L1385.9,443.0 L1388.2,454.7 L1390.4,467.7 L1392.7,460.3 L1395.0,454.0 L1397.3,455.9 L1399.6,456.7 L1402.8,463.0 L1406.0,468.6 L1408.3,461.2 L1410.6,454.9 L1413.8,463.8 L1417.0,475.0 L1418.8,466.6 L1420.7,459.5 L1422.9,456.7 L1425.2,456.7 L1428.0,465.1 L1430.7,473.2 L1433.0,461.6 L1435.3,448.5 L1437.1,458.1 L1439.0,468.6 L1441.7,452.4 L1444.5,439.3 L1446.8,453.7 L1449.0,470.4 L1451.8,452.6 L1454.5,435.6 L1457.3,452.0 L1460.0,467.7 L1463.2,466.4 L1466.4,463.1 L1469.1,463.1 L1471.8,464.9 L1474.4,464.2 L1475.9,475.3 L1477.3,485.4 L1480.2,482.3 L1483.1,479.6 L1485.0,448.8 L1487.4,453.2 L1489.8,458.5 L1491.2,448.8 L1492.7,439.2 L1494.1,449.6 L1495.6,458.5 L1497.8,455.9 L1500.1,454.7 L1502.3,451.7 L1504.2,453.0 L1506.2,454.6 L1509.0,449.4 L1511.9,446.0 L1513.4,446.6 L1514.8,446.9 L1516.7,465.2 L1519.1,460.1 L1521.5,453.7 L1523.9,454.0 L1526.3,457.5 L1528.8,460.1 L1531.2,463.3 L1533.1,455.8 L1535.0,448.8 L1536.4,449.3 L1537.9,446.9 L1539.3,453.3 L1540.8,456.5 L1542.7,453.7 L1544.6,451.7 L1547.2,455.7 L1549.7,457.9 L1552.3,459.4 L1554.6,456.6 L1556.8,455.4 L1559.0,453.7 L1561.9,455.2 L1564.8,459.4 L1567.1,458.6 L1569.3,456.2 L1571.5,453.7 L1573.5,458.4 L1575.4,460.4 L1577.3,458.6 L1579.2,454.6 L1582.1,455.2 L1585.0,454.6 L1587.9,457.4 L1590.8,458.5 L1593.7,459.7 L1596.5,460.4 L1598.9,455.6 L1601.3,453.7 L1603.8,456.4 L1606.2,458.5 L1609.0,454.8 L1611.9,454.6 L1614.2,455.3 L1616.4,459.4 L1618.7,460.4 L1623.5,466.2 L1629.2,468.1 L1636.0,471.9 L1639.8,481.5 L1642.7,486.3 L1649.4,488.3 L1652.3,500.8 L1656.2,512.3 L1660.0,531.5 L1663.8,550.8 L1666.7,566.2 L1671.5,585.4 L1677.3,602.7 L1681.2,619.0 L1686.9,626.7 L1693.7,638.3 L1698.5,631.5 L1703.3,627.7 L1704.2,620.0 L1710.0,600.8 L1713.8,591.2 L1719.6,575.8 L1725.4,571.0 L1730.2,567.1 L1736.0,573.8 L1738.8,583.5 L1742.7,587.3 L1745.6,595.0 L1750.4,596.9 L1755.2,604.6 L1760.0,610.4 L1765.8,600.8 L1769.6,595.0 L1771.5,581.5 L1775.4,577.7 L1779.2,564.2 L1783.1,550.8 L1786.9,547.9 L1790.8,552.7 L1793.7,562.3 L1798.5,570.0 L1802.3,579.6 L1806.2,587.3 L1811.9,582.5 L1818.7,576.7 L1823.5,571.0 L1828.3,575.8 L1834.0,575.8 L1838.8,561.3 L1843.7,563.3 L1848.5,562.3 L1853.3,554.6 L1859.0,551.7 L1863.8,546.0 L1870.6,550.8 L1875.4,554.6 L1880.0,560.4 L1880.0,560.0 L1887.4,555.8 L1892.6,554.8 L1900.0,547.4 L1905.3,544.2 L1912.6,551.6 L1917.9,550.5 L1924.2,555.8 L1928.4,556.9 L1932.7,564.2 L1937.9,569.5 L1941.1,577.9 L1946.3,582.1 L1949.5,589.5 L1957.9,595.8 L1966.4,601.1 L1972.7,611.6 L1977.9,621.1 L1984.3,619.0 L1989.5,609.5 L1994.8,590.6 L2000.1,574.8 L2003.2,574.8 L2006.4,594.8 L2009.5,608.5 L2013.7,599.0 L2019.0,590.6 L2023.2,580.0 L2029.5,573.7 L2034.8,579.0 L2040.1,571.6 L2046.4,568.4 L2050.6,564.2 L2055.9,562.1 L2060.1,569.5 L2063.2,596.9 L2066.4,622.2 L2069.6,599.0 L2072.7,575.8 L2075.9,568.4 L2079.0,580.0 L2083.2,621.1 L2086.4,588.5 L2090.6,567.4 L2096.9,561.1 L2103.3,556.9 L2109.6,548.4 L2115.9,547.4 L2120.1,540.0 L2129.6,537.9 L2135.9,542.1 L2141.2,540.0 L2147.5,542.1 L2154.9,533.7 L2160.1,537.9 L2166.4,537.9 L2170.6,541.1 L2177.0,543.2 L2183.3,544.2 L2189.6,553.7 L2195.9,552.7 L2200.1,544.2 L2206.5,543.2 L2212.8,545.3 L2220.1,549.5 L2225.4,563.2 L2231.7,564.2 L2238.0,571.6 L2242.3,566.3 L2247.5,570.6 L2253.8,572.7 L2259.1,584.2 L2264.4,588.5 L2267.5,597.9 L2271.7,601.1 L2276.0,607.4 L2280.2,616.9 L2283.3,622.2 L2289.6,644.3 L2294.9,641.1 L2300.2,634.8 L2305.4,643.2 L2314.9,643.2 L2318.1,653.7 L2322.3,661.1 L2326.5,655.9 L2331.8,666.4 L2334.5,660.1" fill="none" stroke="#FF00FF" stroke-width="5.0" stroke-linejoin="round" stroke-linecap="round" shape-rendering="crispEdges"/><path d="M283.7,165.7 L286.0,159.7 L288.2,155.6 L291.0,151.0 L293.7,149.2 L296.0,153.9 L298.3,159.3 L301.1,154.9 L303.8,152.9 L306.6,157.3 L309.3,164.8 L312.1,165.8 L314.8,167.5 L317.2,163.3 L319.7,157.0 L322.1,150.1 L325.3,159.3 L328.5,166.6 L330.8,166.1 L333.1,167.5 L335.9,162.6 L338.6,157.5 L341.8,159.4 L345.0,163.0 L347.3,161.3 L349.6,162.1 L352.0,156.1 L354.5,151.9 L356.9,148.3 L359.7,157.2 L362.4,163.0 L364.9,161.7 L367.3,159.2 L369.7,155.6 L372.0,153.5 L374.3,149.2 L375.7,154.5 L377.1,162.1 L379.8,158.6 L382.6,156.6 L384.4,150.1 L386.2,142.8 L388.1,154.2 L389.9,163.9 L392.6,164.2 L395.4,162.1 L398.1,158.4 L400.9,152.0 L403.3,152.9 L405.8,157.2 L408.2,159.3 L410.6,161.1 L413.1,161.8 L415.5,163.0 L417.8,158.1 L420.1,155.6 L422.6,161.3 L425.0,165.8 L427.4,173.0 L429.7,171.4 L432.0,166.6 L434.8,162.9 L437.5,156.6 L440.3,158.6 L443.0,160.2 L444.8,162.7 L446.7,166.6 L449.1,165.4 L451.6,161.4 L454.0,158.4 L456.4,165.0 L458.9,170.0 L461.3,174.0 L464.1,174.9 L466.8,175.8 L469.1,170.0 L471.4,164.8 L472.8,163.8 L474.1,162.1 L476.0,165.9 L477.8,170.3 L480.1,172.7 L482.4,176.9 L484.7,182.4 L487.0,184.9 L489.7,178.7 L492.5,175.8 L494.9,180.9 L497.3,189.7 L499.8,195.9 L502.5,193.3 L505.3,192.4 L508.0,190.3 L510.8,188.6 L513.2,190.5 L515.7,195.3 L518.1,195.9 L520.8,201.2 L523.6,208.8 L526.0,206.6 L528.5,204.0 L530.9,203.3 L533.4,206.2 L535.8,207.3 L538.2,210.6 L540.5,209.6 L542.8,210.6 L545.1,208.6 L547.4,208.8 L549.8,213.2 L552.3,218.8 L554.7,221.6 L557.5,218.3 L560.2,217.9 L562.8,218.0 L565.3,220.2 L567.9,223.8 L570.5,224.9 L573.0,226.2 L575.5,223.1 L577.9,221.3 L580.4,219.7 L583.1,223.2 L585.9,228.8 L588.6,231.8 L591.4,238.1 L593.2,236.9 L595.0,234.4 L597.5,236.4 L599.9,237.3 L602.3,237.1 L604.8,238.5 L607.2,235.7 L609.7,238.1 L612.1,235.5 L614.6,236.1 L617.0,232.6 L619.4,238.4 L621.9,242.0 L624.3,247.2 L626.6,247.7 L628.9,245.4 L631.2,244.9 L633.5,242.6 L635.9,245.9 L638.4,249.5 L640.8,254.5 L643.1,253.4 L645.4,251.4 L647.7,251.4 L650.0,250.9 L652.4,257.1 L654.8,259.4 L657.3,264.6 L659.7,260.1 L662.2,257.5 L664.6,256.4 L667.2,255.2 L669.7,257.4 L672.3,255.9 L674.9,255.6 L677.4,254.9 L680.0,256.4 L680.0,255.3 L682.7,255.7 L685.5,252.6 L687.9,253.5 L690.4,254.0 L692.8,256.2 L695.1,252.8 L697.4,252.6 L700.6,252.3 L703.8,255.3 L706.6,247.7 L709.3,242.5 L712.1,242.7 L714.8,241.6 L717.5,238.5 L720.3,237.9 L722.6,234.4 L724.9,234.2 L726.7,236.0 L728.5,237.9 L730.8,232.0 L733.1,227.8 L735.9,231.5 L738.6,231.5 L740.9,230.6 L743.2,232.5 L745.5,233.9 L747.8,233.3 L749.1,229.3 L750.5,226.0 L752.8,226.8 L755.1,224.2 L757.4,220.0 L759.7,215.9 L762.9,217.3 L766.1,220.5 L768.8,217.9 L771.6,215.9 L773.9,215.9 L776.2,218.9 L778.4,219.8 L780.7,222.3 L783.9,220.5 L787.1,215.9 L789.9,219.0 L792.6,219.6 L795.4,221.4 L798.1,219.5 L800.9,220.1 L803.6,219.8 L806.4,220.5 L809.1,221.3 L811.9,224.2 L814.2,219.8 L816.4,218.6 L818.7,212.6 L821.0,210.4 L822.9,211.1 L824.7,215.0 L827.0,213.8 L829.3,209.5 L832.0,208.5 L834.8,208.8 L837.5,205.9 L839.3,210.5 L841.2,215.9 L843.5,213.7 L845.8,208.6 L849.0,211.9 L852.2,214.1 L854.0,217.9 L855.8,219.6 L857.7,217.7 L859.5,214.1 L861.9,219.6 L864.4,223.6 L866.8,230.6 L868.6,226.3 L870.5,224.2 L873.2,225.5 L876.0,225.6 L878.7,224.2 L881.9,234.4 L885.1,241.6 L887.9,243.7 L890.6,247.1 L893.4,243.1 L896.1,237.9 L897.9,233.5 L899.8,226.9 L902.5,224.7 L905.3,221.4 L907.7,219.5 L910.2,215.4 L912.6,212.3 L914.9,214.0 L917.2,215.2 L919.5,214.9 L921.8,216.8 L924.5,216.1 L927.3,212.3 L930.0,215.7 L932.7,215.9 L935.0,212.6 L937.3,212.3 L938.7,209.4 L940.1,203.1 L942.4,205.2 L944.7,204.0 L946.9,200.5 L949.2,195.8 L952.0,194.4 L954.7,197.7 L957.5,195.1 L960.2,196.7 L962.5,195.2 L964.8,190.3 L968.0,193.2 L971.2,194.9 L974.0,191.2 L976.7,189.6 L979.5,189.2 L982.2,186.6 L984.5,187.3 L986.8,188.4 L989.1,189.5 L991.4,188.5 L993.2,188.8 L995.0,191.2 L997.8,187.1 L1000.5,186.6 L1002.3,190.4 L1004.2,191.2 L1006.9,186.3 L1009.7,184.8 L1012.0,185.2 L1014.2,181.6 L1016.5,183.2 L1018.8,181.1 L1021.6,184.0 L1024.3,184.8 L1027.1,185.7 L1029.8,184.1 L1032.6,184.8 L1035.3,183.0 L1037.1,183.3 L1039.0,185.7 L1041.4,185.1 L1043.9,182.7 L1046.3,182.1 L1048.7,183.8 L1051.2,183.6 L1053.6,183.0 L1055.5,184.7 L1057.3,186.6 L1059.7,185.5 L1062.2,182.5 L1064.6,183.0 L1067.1,181.9 L1069.5,184.5 L1071.9,184.8 L1074.7,182.5 L1077.4,180.2 L1080.0,180.4 L1082.7,180.8 L1085.5,178.6 L1088.2,179.9 L1091.0,180.4 L1093.4,178.8 L1095.9,179.3 L1098.3,179.5 L1100.1,178.2 L1102.0,174.9 L1104.7,180.1 L1107.5,185.0 L1109.8,178.2 L1112.1,174.9 L1115.3,175.7 L1118.5,174.0 L1121.2,176.6 L1124.0,176.8 L1126.7,177.1 L1129.5,180.4 L1132.2,176.5 L1134.9,172.2 L1137.7,173.6 L1140.4,175.9 L1142.7,178.7 L1145.0,179.5 L1147.8,176.6 L1150.5,174.9 L1153.7,171.7 L1156.9,170.4 L1159.7,173.5 L1162.4,176.8 L1164.9,177.2 L1167.3,172.9 L1169.7,173.1 L1172.0,173.6 L1174.3,176.8 L1177.1,173.5 L1179.8,169.5 L1182.3,170.8 L1184.9,169.5 L1187.4,169.2 L1189.9,169.5 L1191.7,169.8 L1193.6,167.6 L1195.4,173.2 L1197.2,176.8 L1199.7,174.6 L1202.1,176.9 L1204.5,174.9 L1207.0,173.5 L1209.4,173.6 L1211.9,174.0 L1213.7,172.0 L1215.5,167.6 L1218.3,169.2 L1221.0,171.3 L1223.5,170.2 L1225.9,165.8 L1228.4,164.9 L1230.2,171.3 L1232.0,174.9 L1234.8,173.8 L1237.5,174.9 L1240.3,168.6 L1243.0,164.9 L1245.3,168.5 L1247.6,172.2 L1250.0,167.6 L1252.5,164.4 L1254.9,160.3 L1256.7,164.5 L1258.6,165.8 L1261.3,172.5 L1264.1,177.7 L1266.8,173.8 L1269.6,172.7 L1272.3,171.3 L1275.1,172.4 L1277.8,173.1 L1281.0,170.8 L1284.2,168.5 L1287.4,172.5 L1290.6,174.9 L1293.4,175.8 L1296.1,176.8 L1299.3,169.3 L1302.5,164.9 L1304.4,171.3 L1306.2,179.5 L1308.5,171.2 L1310.8,160.3 L1313.1,160.2 L1315.3,161.2 L1316.7,171.3 L1318.1,179.5 L1321.3,172.1 L1324.5,161.2 L1326.8,165.3 L1329.1,168.5 L1331.5,167.6 L1334.0,165.9 L1336.4,164.0 L1338.2,166.0 L1340.1,169.5 L1341.9,167.3 L1343.7,162.1 L1345.6,165.7 L1347.4,169.5 L1348.8,162.2 L1350.1,152.1 L1352.9,158.2 L1355.6,165.8 L1357.9,158.0 L1360.2,147.5 L1362.1,162.1 L1364.5,159.8 L1366.9,155.8 L1369.4,152.1 L1371.7,147.7 L1374.0,143.8 L1376.2,148.5 L1378.5,155.7 L1381.3,157.1 L1384.0,156.6 L1386.5,159.2 L1388.9,163.3 L1391.4,165.8 L1393.2,162.2 L1395.0,161.2 L1397.8,170.2 L1400.5,182.3 L1402.8,175.0 L1405.1,171.5 L1407.4,163.3 L1409.7,158.5 L1412.4,172.7 L1415.2,184.1 L1418.4,171.3 L1421.6,159.4 L1422.9,170.6 L1424.3,181.4 L1426.6,176.2 L1428.9,172.2 L1430.7,179.0 L1432.6,185.0 L1434.9,172.6 L1437.1,163.0 L1438.5,171.4 L1439.9,180.4 L1442.2,159.1 L1444.5,134.7 L1446.9,142.4 L1449.4,152.9 L1451.8,161.2 L1454.1,151.9 L1456.4,143.8 L1459.6,156.8 L1462.8,171.3 L1464.6,159.0 L1466.4,150.2 L1469.2,159.9 L1471.9,173.1 L1474.6,170.8 L1477.3,166.4 L1480.0,161.2 L1480.0,163.9 L1483.2,170.0 L1486.4,174.0 L1487.8,171.4 L1489.2,166.6 L1491.0,162.8 L1492.8,155.6 L1494.7,157.6 L1496.5,162.1 L1497.9,166.5 L1499.2,170.3 L1502.0,170.0 L1504.7,169.9 L1507.5,169.4 L1509.3,157.5 L1511.6,156.3 L1513.9,152.0 L1516.2,159.8 L1518.5,165.7 L1521.2,166.5 L1524.0,163.9 L1525.8,164.3 L1527.6,167.5 L1530.4,167.6 L1533.1,166.6 L1534.9,164.1 L1536.8,160.2 L1540.0,163.4 L1543.2,164.8 L1546.4,162.5 L1549.6,159.3 L1552.3,163.2 L1555.1,164.8 L1558.3,159.5 L1561.5,155.6 L1563.8,159.9 L1566.1,161.1 L1568.4,159.0 L1570.7,157.5 L1572.9,161.9 L1575.2,165.7 L1577.5,164.4 L1579.8,160.2 L1582.6,161.9 L1585.3,161.4 L1588.1,163.0 L1590.8,160.2 L1593.6,159.3 L1595.8,161.4 L1598.1,164.8 L1600.6,163.1 L1603.0,162.3 L1605.5,158.4 L1608.0,160.5 L1610.5,159.4 L1613.0,160.1 L1615.5,161.1 L1621.0,166.6 L1624.7,170.3 L1628.4,169.4 L1632.0,174.9 L1635.7,179.5 L1639.3,188.6 L1642.1,195.9 L1648.5,198.7 L1652.2,212.4 L1655.8,236.2 L1659.5,254.5 L1663.2,276.5 L1666.8,298.5 L1670.5,320.5 L1676.0,342.5 L1679.6,360.8 L1683.3,368.1 L1688.8,384.6 L1693.4,390.1 L1697.9,386.4 L1701.6,382.7 L1703.4,368.1 L1707.1,357.1 L1712.6,335.1 L1716.3,316.8 L1719.9,309.5 L1725.4,304.0 L1730.9,300.3 L1734.6,307.7 L1738.2,310.4 L1741.9,327.8 L1746.5,340.6 L1750.1,344.3 L1755.6,353.4 L1760.2,359.9 L1763.9,352.5 L1769.4,344.3 L1771.2,329.6 L1774.9,320.5 L1778.5,305.8 L1782.2,289.3 L1786.8,278.4 L1791.4,282.0 L1795.0,296.7 L1799.6,305.8 L1804.2,318.6 L1807.8,324.1 L1815.2,320.5 L1824.3,307.7 L1828.0,313.2 L1833.5,315.0 L1839.0,300.3 L1844.5,294.8 L1850.9,293.0 L1853.6,287.5 L1858.2,284.8 L1862.8,274.7 L1868.3,278.4 L1873.8,284.8 L1878.4,292.1 L1880.0,292.1 L1887.4,285.8 L1892.6,285.8 L1896.8,279.5 L1904.2,275.3 L1909.5,280.5 L1916.9,282.7 L1928.4,291.1 L1936.9,310.0 L1944.2,317.4 L1949.5,331.1 L1955.8,339.5 L1965.3,345.8 L1972.7,358.5 L1981.1,372.2 L1988.5,356.4 L1994.8,329.0 L2000.1,313.2 L2004.3,314.2 L2006.4,339.5 L2009.5,357.4 L2013.7,341.6 L2019.0,324.8 L2024.3,315.3 L2029.5,311.1 L2035.9,317.4 L2042.2,302.7 L2048.5,293.2 L2054.8,293.2 L2059.0,299.5 L2063.2,329.0 L2066.4,368.0 L2069.6,339.5 L2072.7,314.2 L2075.9,299.5 L2079.0,314.2 L2082.2,368.0 L2085.3,337.4 L2088.5,310.0 L2092.7,295.3 L2099.0,287.9 L2107.5,285.8 L2111.7,278.4 L2120.1,270.0 L2127.5,269.0 L2134.8,273.2 L2143.3,264.8 L2147.5,267.9 L2152.7,260.5 L2160.1,265.8 L2164.3,260.5 L2169.6,265.8 L2177.0,269.0 L2183.3,280.5 L2190.7,283.7 L2195.9,276.3 L2201.2,271.1 L2208.6,273.2 L2212.8,279.5 L2219.1,281.6 L2225.4,298.4 L2229.6,300.6 L2235.9,297.4 L2239.1,307.9 L2246.5,305.8 L2252.8,312.1 L2257.0,313.2 L2261.2,322.7 L2265.4,329.0 L2273.9,352.2 L2277.0,364.8 L2284.4,377.4 L2289.6,392.2 L2292.8,398.5 L2297.0,393.2 L2302.3,384.8 L2309.7,394.3 L2314.9,393.2 L2318.1,411.1 L2322.3,419.6 L2326.5,422.7 L2332.8,416.4 L2334.5,415.3" fill="none" stroke="#008080" stroke-width="5.0" stroke-linejoin="round" stroke-linecap="round" shape-rendering="crispEdges"/><rect x="283.5" y="83.5" width="2051" height="1526" fill="none" stroke="#000" stroke-width="7"/><line x1="377.1" y1="1610" x2="377.1" y2="1624" stroke="#000" stroke-width="6.5" stroke-linecap="round"/><line x1="532.4" y1="1610" x2="532.4" y2="1639" stroke="#000" stroke-width="6.5" stroke-linecap="round"/><line x1="687.8" y1="1610" x2="687.8" y2="1624" stroke="#000" stroke-width="6.5" stroke-linecap="round"/><line x1="843.1" y1="1610" x2="843.1" y2="1639" stroke="#000" stroke-width="6.5" stroke-linecap="round"/><line x1="998.4" y1="1610" x2="998.4" y2="1624" stroke="#000" stroke-width="6.5" stroke-linecap="round"/><line x1="1153.8" y1="1610" x2="1153.8" y2="1639" stroke="#000" stroke-width="6.5" stroke-linecap="round"/><line x1="1309.1" y1="1610" x2="1309.1" y2="1624" stroke="#000" stroke-width="6.5" stroke-linecap="round"/><line x1="1464.4" y1="1610" x2="1464.4" y2="1639" stroke="#000" stroke-width="6.5" stroke-linecap="round"/><line x1="1619.7" y1="1610" x2="1619.7" y2="1624" stroke="#000" stroke-width="6.5" stroke-linecap="round"/><line x1="1775.0" y1="1610" x2="1775.0" y2="1639" stroke="#000" stroke-width="6.5" stroke-linecap="round"/><line x1="1930.4" y1="1610" x2="1930.4" y2="1624" stroke="#000" stroke-width="6.5" stroke-linecap="round"/><line x1="2085.7" y1="1610" x2="2085.7" y2="1639" stroke="#000" stroke-width="6.5" stroke-linecap="round"/><line x1="2241.0" y1="1610" x2="2241.0" y2="1624" stroke="#000" stroke-width="6.5" stroke-linecap="round"/><text x="532.4" y="1704" font-family="Liberation Sans, Arial, sans-serif" style="font-kerning:none" font-size="58" text-anchor="middle">3500</text><text x="843.1" y="1704" font-family="Liberation Sans, Arial, sans-serif" style="font-kerning:none" font-size="58" text-anchor="middle">3000</text><text x="1153.8" y="1704" font-family="Liberation Sans, Arial, sans-serif" style="font-kerning:none" font-size="58" text-anchor="middle">2500</text><text x="1464.4" y="1704" font-family="Liberation Sans, Arial, sans-serif" style="font-kerning:none" font-size="58" text-anchor="middle">2000</text><text x="1775.0" y="1704" font-family="Liberation Sans, Arial, sans-serif" style="font-kerning:none" font-size="58" text-anchor="middle">1500</text><text x="2085.7" y="1704" font-family="Liberation Sans, Arial, sans-serif" style="font-kerning:none" font-size="58" text-anchor="middle">1000</text><text x="992" y="1833" font-family="Liberation Sans, Arial, sans-serif" style="font-kerning:none" font-size="72.5" letter-spacing="0.4">Wavenumber</text><text x="1444" y="1833" font-family="Liberation Sans, Arial, sans-serif" style="font-kerning:none" font-size="72.5">(cm</text><text x="1564.9" y="1793" font-family="Liberation Sans, Arial, sans-serif" style="font-kerning:none" font-size="43">-</text><text x="1581" y="1793" font-family="Liberation Sans, Arial, sans-serif" style="font-kerning:none" font-size="43">1</text><text x="1604.9" y="1833" font-family="Liberation Sans, Arial, sans-serif" style="font-kerning:none" font-size="72.5">)</text><text transform="translate(190,1129) rotate(-90)" font-family="Liberation Sans, Arial, sans-serif" style="font-kerning:none" font-size="72.5" letter-spacing="-0.16">Transmittance</text><text transform="translate(190,652.8) rotate(-90)" font-family="Liberation Sans, Arial, sans-serif" style="font-kerning:none" font-size="72.5">(%)</text><text x="301" y="140" font-family="Liberation Sans, Arial, sans-serif" style="font-kerning:none" font-size="58.7" fill="#008080">Cross-linked hydrogel 88/12</text><text x="304" y="430" font-family="Liberation Sans, Arial, sans-serif" style="font-kerning:none" font-size="58.55" fill="#FF00FF">Cross-linked hydrogel 80/20</text><text x="301" y="647.5" font-family="Liberation Sans, Arial, sans-serif" style="font-kerning:none" font-size="59.1" fill="#0000FF">P(SSNa-co-GMA20)</text><text x="301" y="951" font-family="Liberation Sans, Arial, sans-serif" style="font-kerning:none" font-size="58.7" fill="#000">Collagen hydrolysate</text><text transform="translate(684.6,1287.8) rotate(-90)" font-family="Liberation Sans, Arial, sans-serif" style="font-kerning:none" font-size="46">3284</text><text transform="translate(814.5,1228.5) rotate(-90)" font-family="Liberation Sans, Arial, sans-serif" style="font-kerning:none" font-size="46">3069</text><text transform="translate(895.3,1218.0) rotate(-90)" font-family="Liberation Sans, Arial, sans-serif" style="font-kerning:none" font-size="46">2948</text><text transform="translate(952.3,1192.1) rotate(-90)" font-family="Liberation Sans, Arial, sans-serif" style="font-kerning:none" font-size="46">2877</text><text transform="translate(1711.5,1540.5) rotate(-90)" font-family="Liberation Sans, Arial, sans-serif" style="font-kerning:none" font-size="46">1629</text><text transform="translate(1775.3,1505.3) rotate(-90)" font-family="Liberation Sans, Arial, sans-serif" style="font-kerning:none" font-size="46">1524</text><text transform="translate(1822.3,1415.7) rotate(-90)" font-family="Liberation Sans, Arial, sans-serif" style="font-kerning:none" font-size="46">1444</text><text transform="translate(1860.3,1401.5) rotate(-90)" font-family="Liberation Sans, Arial, sans-serif" style="font-kerning:none" font-size="46">1405</text><text transform="translate(1897.6,1370.7) rotate(-90)" font-family="Liberation Sans, Arial, sans-serif" style="font-kerning:none" font-size="46">1324</text><text transform="translate(1956.2,1407.6) rotate(-90)" font-family="Liberation Sans, Arial, sans-serif" style="font-kerning:none" font-size="46">1236</text><text transform="translate(2007.6,1423.6) rotate(-90)" font-family="Liberation Sans, Arial, sans-serif" style="font-kerning:none" font-size="46">1119</text><text transform="translate(2052.3,1478.1) rotate(-90)" font-family="Liberation Sans, Arial, sans-serif" style="font-kerning:none" font-size="46">1079</text><text transform="translate(2087.5,1335.5) rotate(-90)" font-family="Liberation Sans, Arial, sans-serif" style="font-kerning:none" font-size="46">1030</text><text transform="translate(2165.6,930.2) rotate(-90)" font-family="Liberation Sans, Arial, sans-serif" style="font-kerning:none" font-size="46">909</text><line x1="2007.4" y1="1229.7" x2="2001.4" y2="1279.4" stroke="#000" stroke-width="3.5"/><polygon points="1991.5,1278.2 2011.3,1280.6 1996.8,1317.6" fill="#000"/><line x1="2036.5" y1="1235" x2="2031.4" y2="1318.0" stroke="#000" stroke-width="3.5"/><polygon points="2021.0,1316.9 2041.8,1319.1 2027.2,1357.3" fill="#000"/><line x1="2131.5" y1="157.9" x2="2171" y2="157.9" stroke="#000" stroke-width="3.8" stroke-dasharray="9.7 12.5" stroke-linecap="round" fill="none"/><line x1="2171" y1="162.6" x2="2171" y2="843" stroke="#000" stroke-width="3.8" stroke-dasharray="9.7 12.5" stroke-linecap="round" fill="none"/><line x1="2129" y1="843" x2="2171" y2="843" stroke="#000" stroke-width="3.8" stroke-dasharray="9.7 12.5" stroke-linecap="round" fill="none" stroke-dashoffset="0.8"/><line x1="2129" y1="841" x2="2129" y2="157.9" stroke="#000" stroke-width="3.8" stroke-dasharray="9.7 12.5" stroke-linecap="round" fill="none"/></svg>
</body></html>
